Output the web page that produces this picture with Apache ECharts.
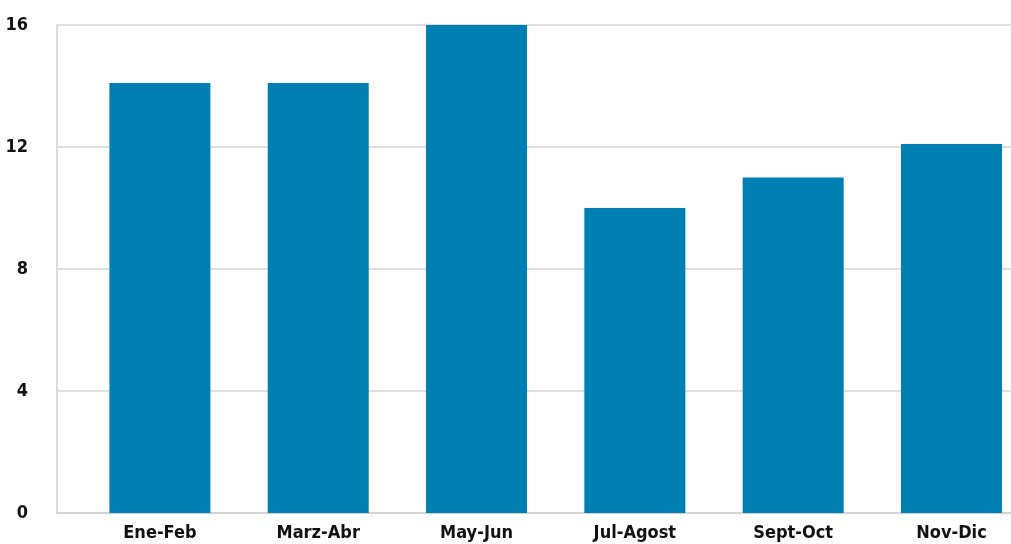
<!DOCTYPE html>
<html>
<head>
<meta charset="utf-8">
<script src="https://cdn.jsdelivr.net/npm/echarts@6/dist/echarts.min.js"></script>
<style>
  html, body { margin: 0; padding: 0; background: #fff; }
  #chart { width: 1011px; height: 544px; }
</style>
</head>
<body>
<div id="chart"></div>
<script>
// datos del gráfico
var categorias = ['Ene-Feb', 'Marz-Abr', 'May-Jun', 'Jul-Agost', 'Sept-Oct', 'Nov-Dic'];
var valores = [14.1, 14.1, 16, 10, 11, 12.1];
var ticksY = [0, 4, 8, 12, 16];

var fuente = '"DejaVu Sans Condensed", "Liberation Sans Narrow", sans-serif';

var myChart = echarts.init(document.getElementById('chart'));

var option = {
    animation: false,
    grid: { left: 57, right: 0, top: 25, bottom: 31 },
    xAxis: {
        type: 'value',
        min: -0.65,
        max: 5.376,
        splitLine: { show: false },
        axisTick: { show: false },
        axisLine: { show: true, onZero: false, lineStyle: { color: '#d0d0d0', width: 1.5 } },
        axisLabel: {
            customValues: categorias.map(function (c, i) { return i; }),
            formatter: function (v) { return categorias[Math.round(v)]; },
            color: '#111',
            fontFamily: fuente,
            fontSize: 18,
            fontWeight: 'bold',
            margin: 11
        }
    },
    yAxis: {
        type: 'value',
        min: 0,
        max: 16,
        interval: 4,
        axisLine: { show: true, onZero: false, lineStyle: { color: '#d0d0d0', width: 1.5 } },
        axisTick: { show: false },
        splitLine: { lineStyle: { color: '#d4d4d4', width: 1.5 } },
        axisLabel: {
            customValues: ticksY,
            color: '#111',
            fontFamily: fuente,
            fontSize: 18,
            fontWeight: 'bold',
            margin: 29
        }
    },
    series: [{
        type: 'bar',
        barWidth: 101,
        itemStyle: { color: '#007fb2' },
        data: valores.map(function (v, i) { return [i, v]; })
    }]
};

myChart.setOption(option);
</script>
</body>
</html>
